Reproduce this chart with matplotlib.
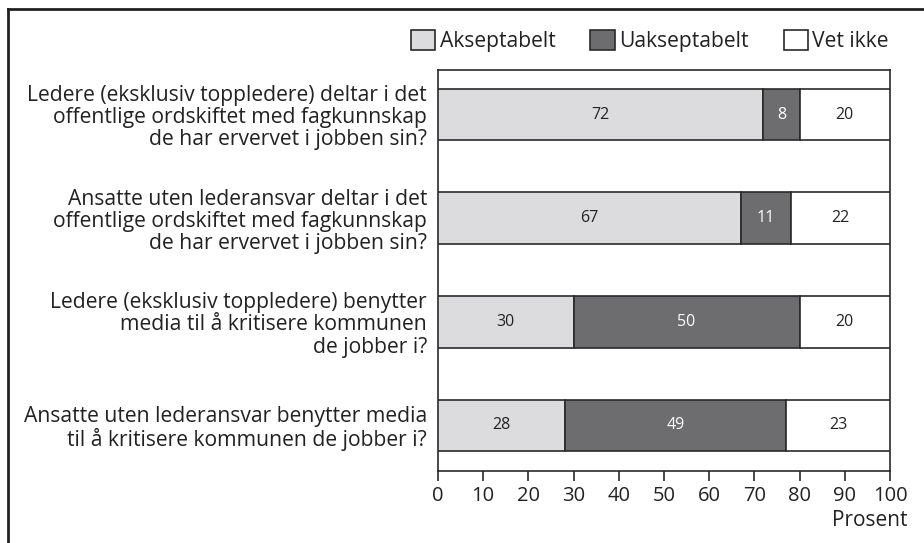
import matplotlib
matplotlib.use("Agg")
import matplotlib.pyplot as plt
from matplotlib.patches import Patch
from matplotlib.lines import Line2D

plt.rcParams['font.family'] = ['Open Sans', 'DejaVu Sans']

categories = [
    "Ledere (eksklusiv toppledere) deltar i det\noffentlige ordskiftet med fagkunnskap\nde har ervervet i jobben sin?",
    "Ansatte uten lederansvar deltar i det\noffentlige ordskiftet med fagkunnskap\nde har ervervet i jobben sin?",
    "Ledere (eksklusiv toppledere) benytter\nmedia til å kritisere kommunen\nde jobber i?",
    "Ansatte uten lederansvar benytter media\ntil å kritisere kommunen de jobber i?",
]
series_names = ["Akseptabelt", "Uakseptabelt", "Vet ikke"]
akseptabelt = [72, 67, 30, 28]
uakseptabelt = [8, 11, 50, 49]
vet_ikke = [20, 22, 20, 23]
xticks = [0, 10, 20, 30, 40, 50, 60, 70, 80, 90, 100]

colors = ["#dcdcde", "#6d6d70", "#ffffff"]
txt_colors = ["#222222", "#ffffff", "#222222"]
edge = "#2a2a2a"

fig = plt.figure(figsize=(9.24, 5.43), dpi=100)
ax = fig.add_axes([438/924, 1 - 471/543, (890-438)/924, (471-70)/543])

ypos = list(range(len(categories)))
left = [0]*len(categories)
for name, vals, c, tc in zip(series_names, [akseptabelt, uakseptabelt, vet_ikke], colors, txt_colors):
    ax.barh(ypos, vals, left=left, height=0.5, color=c, edgecolor=edge, linewidth=1.2, zorder=3)
    for y, v, l in zip(ypos, vals, left):
        ax.text(l + v/2, y, str(v), ha='center', va='center', fontsize=11.5, color=tc, zorder=4)
    left = [a + b for a, b in zip(left, vals)]

ax.set_xlim(0, 100)
ax.set_ylim(3.44, -0.43)
ax.set_yticks(ypos)
ax.set_yticklabels(categories, fontsize=15.2, color="#222222", linespacing=1.08)
ax.tick_params(axis='y', length=0, pad=8)
ax.set_xticks(xticks)
ax.set_xticklabels([str(t) for t in xticks], fontsize=14.5, color="#222222")
ax.tick_params(axis='x', direction='out', length=7, width=1.2, color=edge, pad=4)
for s in ax.spines.values():
    s.set_color(edge)
    s.set_linewidth(1.2)

fig.text(908/924, 1 - 521/543, "Prosent", ha='right', va='center', fontsize=15, color="#222222")

handles = [Patch(facecolor=c, edgecolor=edge, linewidth=1.2) for c in colors]
fig.legend(handles, series_names, loc='center right', bbox_to_anchor=(889/924, 1 - 41/543),
           ncol=3, frameon=False, fontsize=15.2, handlelength=1.15, handleheight=1.1,
           handletextpad=0.22, columnspacing=1.65, labelcolor="#222222", borderpad=0, borderaxespad=0)

# outer frame (cropped box)
fig.add_artist(Line2D([8/924, 8/924], [0, 1 - 9/543], transform=fig.transFigure, color="#222222", linewidth=2))
fig.add_artist(Line2D([8/924, 1], [1 - 9/543, 1 - 9/543], transform=fig.transFigure, color="#222222", linewidth=2))

fig.savefig("out.png", dpi=100)
